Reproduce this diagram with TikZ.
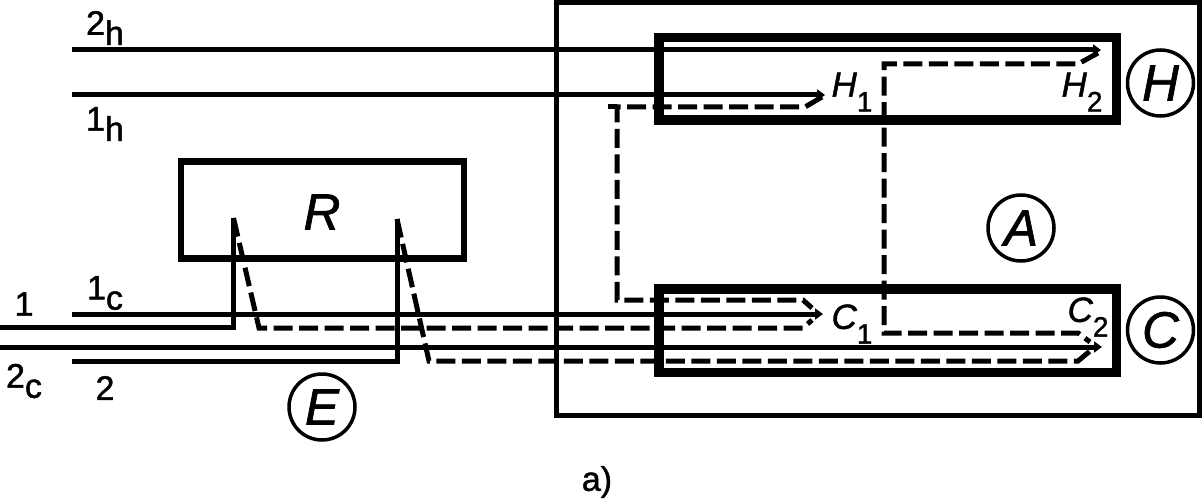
\documentclass[tikz,border=0pt]{standalone}
\usepackage{fontspec}
\setmainfont[RawFeature={embolden=1.3}]{Liberation Sans}
\usetikzlibrary{arrows.meta}
\newcommand{\subtag}[2]{#1\raisebox{-0.3em}{#2}}
\newcommand{\subpole}[2]{{\itshape #1}\raisebox{-0.42em}{\fontsize{28}{28}\selectfont #2}}

\begin{document}
\begin{tikzpicture}[
  x=1pt, y=-1pt,
  >={Triangle[length=8pt,width=11pt]},
  wire/.style={line width=5pt},
  dashwire/.style={line width=5pt, dash pattern=on 19pt off 6.5pt},
  unitbox/.style={draw, line width=9.5pt, minimum width=457.5pt, minimum height=82.5pt, inner sep=0pt},
  pole/.style={draw, circle, line width=3.5pt, minimum size=66pt, inner sep=0pt, font=\fontsize{51}{51}\selectfont\itshape},
  tag/.style={inner sep=0pt, font=\fontsize{34}{34}\selectfont},
  bigtag/.style={inner sep=0pt, font=\fontsize{35}{35}\selectfont}
]
\useasboundingbox (0,0) rectangle (1202,500);

% boxes
\node[draw, line width=5pt, minimum width=643pt, minimum height=413pt, inner sep=0pt] (plant) at (878,209) {};
\node[draw, line width=6.5pt, minimum width=283pt, minimum height=97pt, inner sep=0pt] (reg) at (322.5,210) {};
\node[font=\fontsize{51}{51}\selectfont\itshape, inner sep=0pt] (regname) at (322,212) {R};
\node[unitbox] (hot) at (887.5,79) {};
\node[unitbox, minimum height=83.5pt] (cold) at (887.5,330.5) {};

% circled letters
\node[pole] (polee) at (322,407) {E};
\node[pole] (polea) at (1021,228) {A};
\node[pole] (poleh) at (1160.5,83) {H};
\node[pole] (polec) at (1160.5,330) {C};

% wire ends
\coordinate (hin2) at (72,50);   \coordinate (hend2) at (1101,50);
\coordinate (hin1) at (72,95);   \coordinate (hend1) at (825,95);
\coordinate (cin1) at (72,314);  \coordinate (cend1) at (823,314);
\coordinate (cin2) at (72,361);
\coordinate (in1) at (0,327);    \coordinate (in2) at (0,347);
\coordinate (end2) at (1102,347);
\coordinate (reg1) at (233.5,218); \coordinate (reg2) at (397,219);
\coordinate (low1) at (233.5,327); \coordinate (low2) at (397,361);

% solid wires
\draw[wire, ->] (hin2) -- (hend2);
\draw[wire, ->] (hin1) -- (hend1);
\draw[wire, ->] (cin1) -- (cend1);
\draw[wire, ->] (in2) -- (end2);
\draw[wire] (in1) -- (low1) -- (reg1);
\draw[wire] (cin2) -- (low2) -- (reg2);

% dashed sensor lines
\coordinate (d1a) at (259,328);  \coordinate (d1b) at (803,328);  \coordinate (d1c) at (812,320);
\coordinate (d2a) at (429,361);  \coordinate (d2b) at (1078,361); \coordinate (d2c) at (1090,351);
\coordinate (t1) at (608,107);   \coordinate (t2) at (617,107);
\coordinate (t3) at (805,107);   \coordinate (t4) at (822,97);
\coordinate (t5) at (617,300);   \coordinate (t6) at (803,300);   \coordinate (t7) at (812,308);
\coordinate (v1) at (1098,53);   \coordinate (v2) at (1078,64);   \coordinate (v3) at (884,64);
\coordinate (v4) at (884,333);   \coordinate (v5) at (1078,333);  \coordinate (v6) at (1090,342);

\draw[dashwire] (reg1) -- (d1a) -- (d1b) -- (d1c);
\draw[dashwire] (reg2) -- (d2a) -- (d2b) -- (d2c);
\draw[dashwire] (t4) -- (t3) -- (t2) -- (t5) -- (t6) -- (t7);
\draw[wire] (t1) -- (t2);
\draw[dashwire] (v1) -- (v2) -- (v3) -- (v4) -- (v5) -- (v6);

% labels
\node[tag] (l2h) at (105,28) {\subtag{2}{h}};
\node[tag] (l1h) at (105,124) {\subtag{1}{h}};
\node[tag] (l1c) at (105,293) {\subtag{1}{c}};
\node[tag] (l1) at (24,304) {1};
\node[tag] (l2c) at (24,381) {\subtag{2}{c}};
\node[tag] (l2) at (105,388) {2};
\node[bigtag] (h1) at (852,92) {\subpole{H}{1}};
\node[bigtag] (h2) at (1082,92) {\subpole{H}{2}};
\node[bigtag] (c1) at (852,324) {\subpole{C}{1}};
\node[bigtag] (c2) at (1088,317) {\subpole{C}{2}};
\node[tag] (cap) at (597,482) {a)};
\end{tikzpicture}
\end{document}
